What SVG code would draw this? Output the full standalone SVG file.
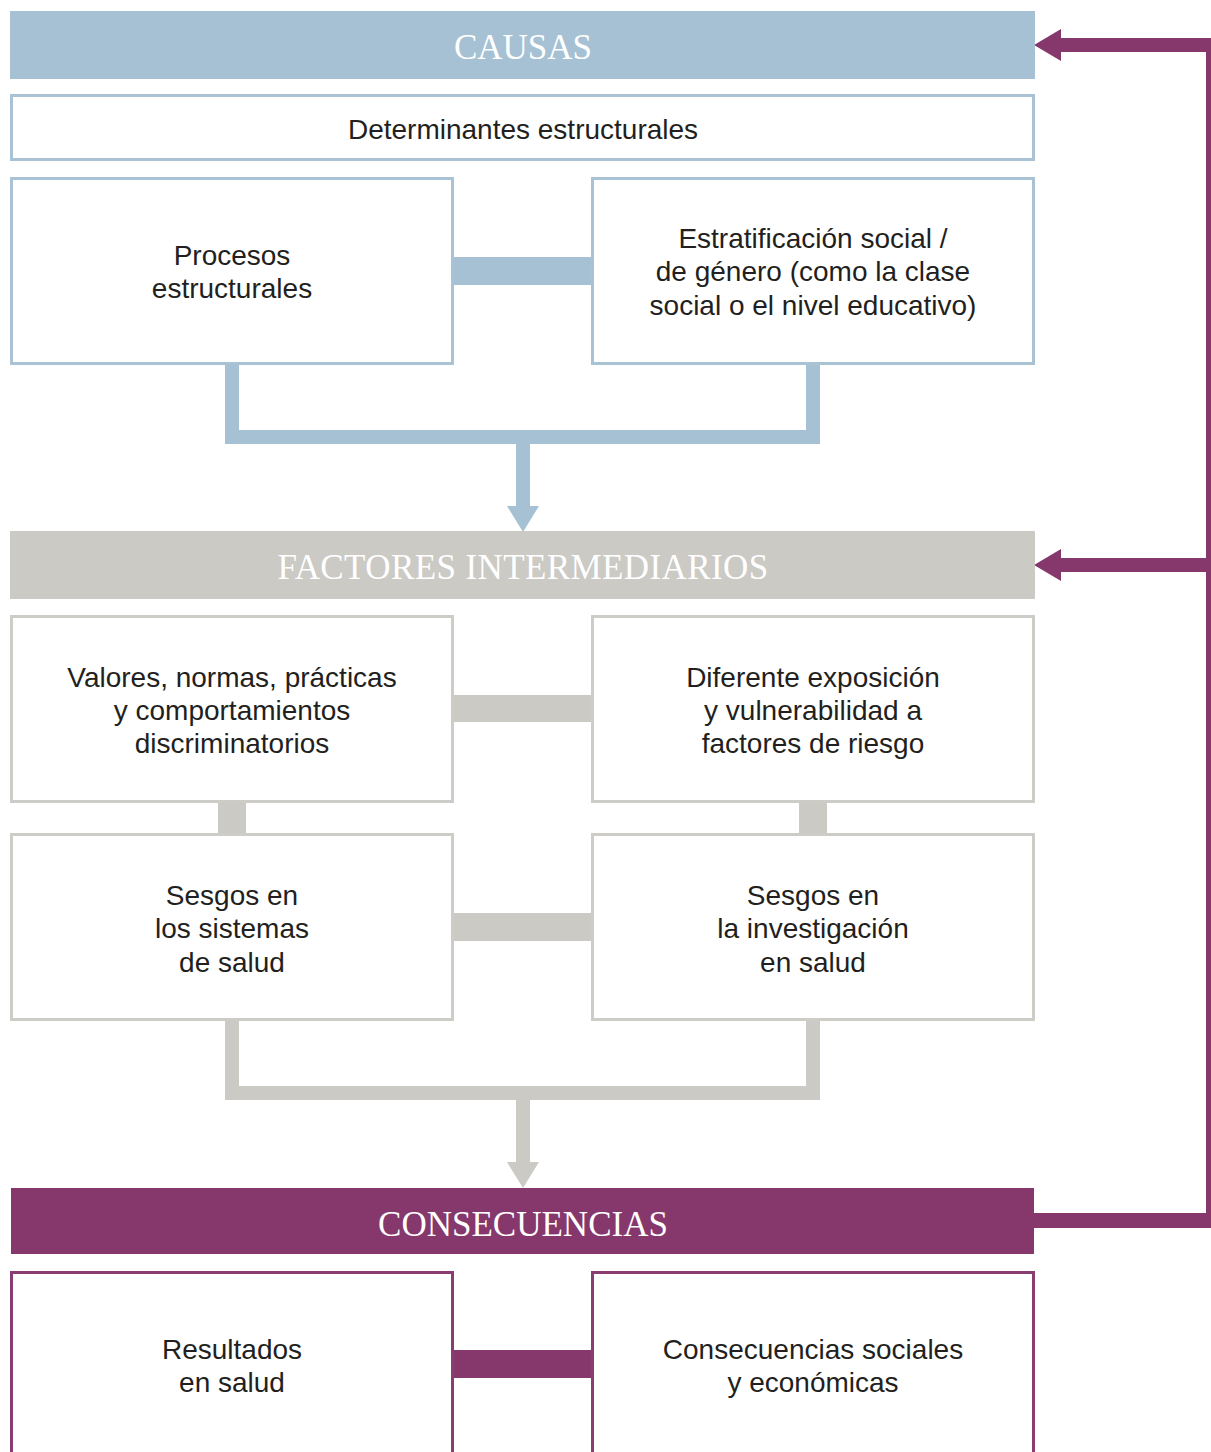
<svg xmlns="http://www.w3.org/2000/svg" width="1211" height="1452" viewBox="0 0 1211 1452">
<style>
.hdr{font-family:"Liberation Serif","Times New Roman",serif;font-size:35px;fill:#ffffff;text-anchor:middle}
.t{font-family:"Liberation Sans",Arial,sans-serif;font-size:28px;fill:#231f20;text-anchor:middle}
.bb{fill:#ffffff;stroke:#a9c3d5;stroke-width:3}
.gb{fill:#ffffff;stroke:#cdccc7;stroke-width:3}
.pb{fill:#ffffff;stroke:#8a3d70;stroke-width:3}
.blue{fill:#a5c1d3}
.gray{fill:#cbcac5}
.purp{fill:#86376c}
</style>
<rect width="1211" height="1452" fill="#ffffff"/>
<g id="connectors">
  <rect class="blue" x="454" y="257" width="137" height="28"/>
  <rect class="blue" x="225" y="365" width="14" height="79"/>
  <rect class="blue" x="806" y="365" width="14" height="79"/>
  <rect class="blue" x="225" y="430" width="595" height="14"/>
  <rect class="blue" x="516" y="444" width="14" height="63"/>
  <polygon class="blue" points="507,506 539,506 523,532"/>
  <rect class="gray" x="454" y="695" width="137" height="27"/>
  <rect class="gray" x="218" y="803" width="28" height="31"/>
  <rect class="gray" x="799" y="803" width="28" height="31"/>
  <rect class="gray" x="454" y="913" width="137" height="28"/>
  <rect class="gray" x="225" y="1021" width="14" height="79"/>
  <rect class="gray" x="806" y="1021" width="14" height="79"/>
  <rect class="gray" x="225" y="1086" width="595" height="14"/>
  <rect class="gray" x="516" y="1100" width="14" height="63"/>
  <polygon class="gray" points="507,1162 539,1162 523,1188"/>
  <rect class="purp" x="454" y="1350" width="137" height="28"/>
  <rect class="purp" x="1206" y="38" width="5" height="1190"/>
  <rect class="purp" x="1060" y="38" width="151" height="14"/>
  <polygon class="purp" points="1034,45 1061,29 1061,61"/>
  <rect class="purp" x="1060" y="558" width="151" height="14"/>
  <polygon class="purp" points="1034,565 1061,549 1061,581"/>
  <rect class="purp" x="1034" y="1213" width="177" height="15"/>
</g>
<g id="causas">
  <rect class="blue" x="10" y="11" width="1025" height="68"/>
  <text class="hdr" x="523" y="59">CAUSAS</text>
</g>
<g id="determinantes">
  <rect class="bb" x="11.5" y="95.5" width="1022" height="64"/>
  <text class="t" x="523" y="139">Determinantes estructurales</text>
</g>
<g id="procesos">
  <rect class="bb" x="11.5" y="178.5" width="441" height="185"/>
  <text class="t" x="232" y="265">Procesos</text>
  <text class="t" x="232" y="298">estructurales</text>
</g>
<g id="estratificacion">
  <rect class="bb" x="592.5" y="178.5" width="441" height="185"/>
  <text class="t" x="813" y="248">Estratificación social /</text>
  <text class="t" x="813" y="281">de género (como la clase</text>
  <text class="t" x="813" y="315">social o el nivel educativo)</text>
</g>
<g id="factores">
  <rect class="gray" x="10" y="531" width="1025" height="68"/>
  <text class="hdr" x="523" y="579" letter-spacing="0.4">FACTORES INTERMEDIARIOS</text>
</g>
<g id="valores">
  <rect class="gb" x="11.5" y="616.5" width="441" height="185"/>
  <text class="t" x="232" y="687">Valores, normas, prácticas</text>
  <text class="t" x="232" y="720">y comportamientos</text>
  <text class="t" x="232" y="753">discriminatorios</text>
</g>
<g id="exposicion">
  <rect class="gb" x="592.5" y="616.5" width="441" height="185"/>
  <text class="t" x="813" y="687">Diferente exposición</text>
  <text class="t" x="813" y="720">y vulnerabilidad a</text>
  <text class="t" x="813" y="753">factores de riesgo</text>
</g>
<g id="sesgos-sistemas">
  <rect class="gb" x="11.5" y="834.5" width="441" height="185"/>
  <text class="t" x="232" y="905">Sesgos en</text>
  <text class="t" x="232" y="938">los sistemas</text>
  <text class="t" x="232" y="972">de salud</text>
</g>
<g id="sesgos-investigacion">
  <rect class="gb" x="592.5" y="834.5" width="441" height="185"/>
  <text class="t" x="813" y="905">Sesgos en</text>
  <text class="t" x="813" y="938">la investigación</text>
  <text class="t" x="813" y="972">en salud</text>
</g>
<g id="consecuencias">
  <rect class="purp" x="11" y="1188" width="1023" height="66"/>
  <text class="hdr" x="523" y="1236">CONSECUENCIAS</text>
</g>
<g id="resultados">
  <rect class="pb" x="11.5" y="1272.5" width="441" height="200"/>
  <text class="t" x="232" y="1359">Resultados</text>
  <text class="t" x="232" y="1392">en salud</text>
</g>
<g id="consec-sociales">
  <rect class="pb" x="592.5" y="1272.5" width="441" height="200"/>
  <text class="t" x="813" y="1359">Consecuencias sociales</text>
  <text class="t" x="813" y="1392">y económicas</text>
</g>
</svg>
